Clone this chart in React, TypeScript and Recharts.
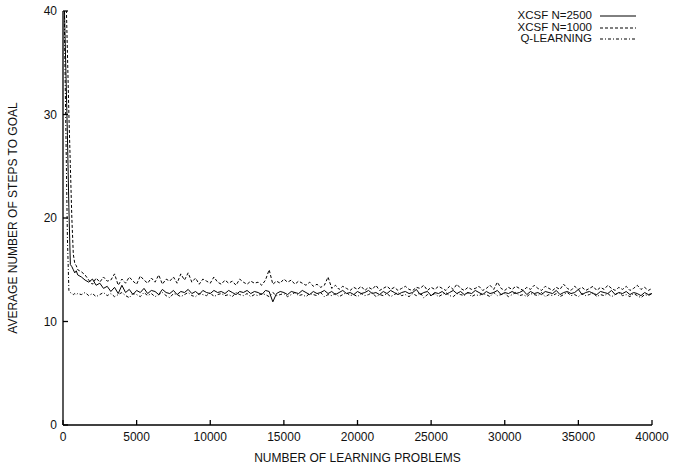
import { Line, LineChart, XAxis, YAxis } from "recharts";

// sample positions: fine steps during the initial drop, then every 250 problems
const earlyProblems = [0, 100, 200, 300, 400, 500, 600, 700, 800, 900, 1000];
const laterProblems = Array.from({ length: 156 }, (_, i) => 1250 + i * 250);
const problems = [...earlyProblems, ...laterProblems];

const xcsf2500 = [
  300, 40, 34, 28, 21, 15.5, 15.3, 15.0, 14.7, 14.9, 14.5,
  14.3, 14.0, 13.8, 14.1, 13.5, 13.7, 13.2, 13.4,
  12.9, 13.3, 12.7, 13.5, 12.8, 13.1, 12.6, 13.0, 12.8, 13.2,
  12.7, 13.0, 12.9, 12.6, 13.1, 12.8, 12.7, 13.0, 12.6, 12.9,
  12.8, 13.1, 12.7, 12.9, 12.6, 13.0, 12.8, 12.7, 13.0, 12.8,
  12.9, 12.7, 13.0, 12.8, 12.6, 12.9, 12.8, 13.0, 12.7, 12.9,
  12.8, 12.6, 13.0, 12.9, 11.9, 12.7, 12.9, 12.8, 12.6, 12.9,
  12.8, 12.7, 13.0, 12.8, 12.6, 12.9, 12.7, 12.8, 13.0, 12.7,
  12.9, 12.6, 12.8, 13.0, 12.7, 12.8, 12.6, 12.9, 12.7, 12.8,
  13.0, 12.7, 12.8, 12.6, 12.9, 12.7, 13.0, 12.8, 12.6, 12.8,
  12.9, 12.7, 12.8, 13.1, 12.6, 12.8, 12.9, 12.5, 12.8, 12.7,
  12.9, 12.6, 12.8, 13.0, 12.7, 12.9, 12.6, 12.8, 12.7, 13.0,
  12.8, 12.6, 12.9, 12.7, 12.8, 13.0, 12.6, 12.8, 12.7, 12.9,
  12.7, 12.8, 13.0, 12.6, 12.9, 12.7, 12.8, 12.6, 12.9, 12.8,
  12.7, 13.0, 12.6, 12.8, 12.9, 12.7, 12.8, 13.1, 12.6, 12.8,
  12.9, 12.7, 12.6, 12.9, 12.8, 12.7, 13.0, 12.6, 12.8, 12.7,
  12.9, 12.6, 12.8, 12.7, 12.5, 12.8, 12.6, 12.7,
];

const xcsf1000 = [
  300, 48, 42, 36, 30, 25, 20, 16.5, 15.6, 15.4, 15.0,
  14.8, 14.5, 14.0, 13.6, 14.2, 13.8, 14.3, 13.9,
  14.0, 14.6, 13.5, 14.1, 13.7, 14.3, 13.9, 13.6, 14.4, 14.0,
  13.7, 14.2, 13.8, 14.5, 13.6, 14.1, 13.9, 14.3, 13.7, 14.6,
  14.0, 14.7, 13.8, 14.2, 13.6, 14.1, 13.9, 13.7, 14.3, 13.8,
  13.6, 14.0, 13.7, 13.9, 13.5, 14.1, 13.8, 13.6, 13.9, 13.7,
  13.8, 13.5, 14.0, 15.0, 13.6, 13.9, 13.7, 14.1, 13.8, 14.0,
  13.6, 13.9, 13.7, 13.5, 13.8, 13.4, 13.6, 13.3, 13.5, 14.3,
  13.2, 13.5, 13.1, 13.4, 13.2, 13.0, 13.3, 13.1, 13.4, 13.0,
  13.3, 13.1, 13.5, 13.0, 13.2, 13.4, 13.1, 13.3, 13.0, 13.2,
  13.4, 13.1, 13.0, 13.3, 13.2, 13.5, 13.0, 13.3, 13.1, 13.4,
  13.2, 13.0, 13.4, 13.1, 13.6, 13.2, 13.0, 13.3, 13.1, 13.2,
  13.4, 13.0, 13.2, 13.5, 13.1, 13.8, 13.2, 13.0, 13.3, 13.1,
  13.4, 13.2, 13.0, 13.3, 13.1, 13.5, 13.2, 13.0, 13.4, 13.2,
  13.0, 13.3, 13.1, 13.6, 13.2, 13.0, 13.4, 13.1, 13.3, 13.0,
  13.2, 13.4, 13.0, 13.3, 13.1, 13.5, 13.2, 13.0, 13.3, 13.1,
  13.4, 13.0, 13.2, 13.5, 13.1, 13.3, 13.0, 13.2,
];

const qLearning = [
  300, 38, 28, 18, 13.0, 12.8, 12.7, 12.6, 12.7, 12.6, 12.7,
  12.6, 12.8, 12.5, 12.7, 12.4, 12.6, 12.8, 12.5,
  12.7, 12.4, 12.6, 12.8, 12.5, 12.3, 12.7, 12.6, 12.4, 12.8,
  12.5, 12.7, 12.4, 12.6, 12.8, 12.5, 12.3, 12.7, 12.6, 12.4,
  12.6, 12.8, 12.5, 12.4, 12.7, 12.6, 12.5, 12.8, 12.4, 12.6,
  12.7, 12.5, 12.6, 12.4, 12.8, 12.6, 12.5, 12.7, 12.4, 12.6,
  12.5, 12.7, 12.6, 12.4, 12.8, 12.5, 12.6, 12.7, 12.4, 12.6,
  12.8, 12.5, 12.6, 12.4, 12.7, 12.6, 12.5, 12.8, 12.4, 12.6,
  12.5, 12.7, 12.4, 12.6, 12.8, 12.5, 12.6, 12.4, 12.7, 12.5,
  12.6, 12.8, 12.4, 12.6, 12.5, 12.7, 12.4, 12.6, 12.8, 12.5,
  12.6, 12.4, 12.7, 12.5, 12.8, 12.3, 12.6, 12.5, 12.7, 12.4,
  12.6, 12.8, 12.5, 12.4, 12.7, 12.6, 12.5, 12.8, 12.4, 12.6,
  12.5, 12.7, 12.6, 12.4, 12.8, 12.5, 12.6, 12.7, 12.4, 12.6,
  12.8, 12.5, 12.6, 12.4, 12.7, 12.6, 12.5, 12.8, 12.4, 12.6,
  12.5, 12.7, 12.4, 12.6, 12.8, 12.5, 12.6, 12.4, 12.7, 12.5,
  12.6, 12.8, 12.4, 12.6, 12.5, 12.7, 12.4, 12.6, 12.8, 12.5,
  12.6, 12.4, 12.7, 12.5, 12.3, 12.6, 12.5, 12.7,
];

const xTicks = [0, 5000, 10000, 15000, 20000, 25000, 30000, 35000, 40000];
const yTicks = [0, 10, 20, 30, 40];

const series = [
  { key: "xcsf2500", label: "XCSF N=2500", dash: undefined },
  { key: "xcsf1000", label: "XCSF N=1000", dash: "3 2" },
  { key: "qLearning", label: "Q-LEARNING", dash: "3 2 1 2" },
];

const data = problems.map((p, i) => ({
  problems: p,
  xcsf2500: xcsf2500[i],
  xcsf1000: xcsf1000[i],
  qLearning: qLearning[i],
}));

const font = "'Liberation Sans', Arial, sans-serif";
const tickStyle = { fill: "#111", fontSize: 12, fontFamily: font };
const frame = { stroke: "#000", strokeWidth: 1.3 };

function Key() {
  return (
    <div
      style={{
        position: "absolute",
        top: 10,
        left: 480,
        width: 156,
        fontFamily: font,
        fontSize: 11.5,
        color: "#111",
      }}
    >
      {series.map((s) => (
        <div
          key={s.key}
          style={{ display: "flex", alignItems: "center", justifyContent: "flex-end", height: 11.5 }}
        >
          <span style={{ display: "inline-block", lineHeight: "11px", height: 11 }}>{s.label}</span>
          <svg width={44} height={11}>
            <line x1={8} x2={44} y1={6} y2={6} stroke="#000" strokeDasharray={s.dash} />
          </svg>
        </div>
      ))}
    </div>
  );
}

export default function App() {
  return (
    <div style={{ position: "absolute", left: 0, top: 0, width: 682, height: 465, background: "#fff" }}>
      <LineChart
        width={682}
        height={465}
        data={data}
        margin={{ top: 11, right: 30, left: 0, bottom: 0 }}
      >
        <XAxis
          xAxisId="bottom"
          dataKey="problems"
          type="number"
          domain={[0, 40000]}
          ticks={xTicks}
          height={40}
          tickSize={-5}
          tickMargin={12}
          axisLine={frame}
          tickLine={frame}
          tick={tickStyle}
          allowDataOverflow
        />
        <XAxis
          xAxisId="top"
          orientation="top"
          dataKey="problems"
          type="number"
          domain={[0, 40000]}
          ticks={xTicks}
          height={0}
          tickSize={-5}
          axisLine={frame}
          tickLine={frame}
          tick={false}
        />
        <YAxis
          yAxisId="left"
          type="number"
          domain={[0, 40]}
          ticks={yTicks}
          width={63}
          tickSize={-5}
          tickMargin={11}
          axisLine={frame}
          tickLine={frame}
          tick={tickStyle}
          allowDataOverflow
        />
        <YAxis
          yAxisId="right"
          orientation="right"
          type="number"
          domain={[0, 40]}
          ticks={yTicks}
          width={0}
          tickSize={-5}
          axisLine={frame}
          tickLine={frame}
          tick={false}
        />
        {series.map((s) => (
          <Line
            key={s.key}
            xAxisId="bottom"
            yAxisId="left"
            dataKey={s.key}
            type="linear"
            stroke="#000"
            strokeWidth={1}
            strokeDasharray={s.dash}
            dot={false}
            isAnimationActive={false}
          />
        ))}
      </LineChart>
      <div
        style={{
          position: "absolute",
          left: 63,
          width: 589,
          top: 451,
          textAlign: "center",
          fontFamily: font,
          fontSize: 12,
          color: "#111",
        }}
      >
        NUMBER OF LEARNING PROBLEMS
      </div>
      <div
        style={{
          position: "absolute",
          left: 13,
          top: 218,
          transform: "translate(-50%, -50%) rotate(-90deg)",
          whiteSpace: "nowrap",
          fontFamily: font,
          fontSize: 12,
          color: "#111",
        }}
      >
        AVERAGE NUMBER OF STEPS TO GOAL
      </div>
      <Key />
    </div>
  );
}
